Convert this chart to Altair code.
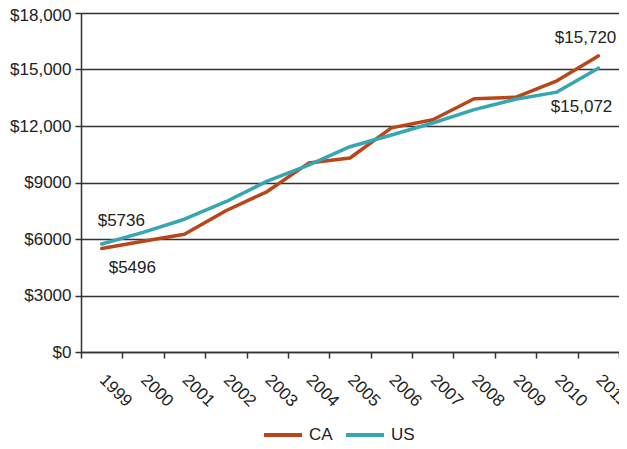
import altair as alt
import pandas as pd

years = [str(y) for y in range(1999, 2012)]
ca_values = [5496, 5880, 6250, 7500, 8520, 10030, 10300, 11900, 12330, 13450, 13520, 14400, 15720]
us_values = [5736, 6350, 7050, 7980, 9070, 9920, 10900, 11520, 12160, 12870, 13420, 13800, 15072]
series_names = ["CA", "US"]
series_colors = ["#B9461A", "#35A6B2"]

ann_year = ["1999", "1999", "2011", "2011"]
ann_value = [5736, 5496, 15720, 15072]
ann_text = ["$5736", "$5496", "$15,720", "$15,072"]

rows = []
for y, c, u in zip(years, ca_values, us_values):
    rows.append({"year": y, "value": c, "series": "CA"})
    rows.append({"year": y, "value": u, "series": "US"})
df = pd.DataFrame(rows)

FONT = "Liberation Sans"
TXT = "#222222"

x_scale = alt.Scale(type="band", domain=years, paddingInner=0, paddingOuter=0)
x_enc = alt.X(
    "year:O",
    scale=x_scale,
    bandPosition=0.5,
    axis=alt.Axis(
        title=None, tickBand="extent", labelAngle=45, labelAlign="left",
        labelBaseline="middle", labelPadding=19, tickSize=6, tickColor="#333333",
        tickWidth=1.5, domainColor="#333333", domainWidth=1.5, grid=False,
        labelFont=FONT, labelFontSize=17, labelColor=TXT,
    ),
)
y_scale = alt.Scale(domain=[0, 18000], nice=False)
y_enc = alt.Y(
    "value:Q",
    scale=y_scale,
    axis=alt.Axis(
        title=None, values=[0, 3000, 6000, 9000, 12000, 15000, 18000],
        labelExpr="datum.value >= 10000 ? '$' + format(datum.value, ',') : '$' + datum.value",
        labelOffset={"condition": {"test": "datum.value == 18000", "value": 2}, "value": 0},
        grid=True, gridColor="#333333", gridWidth=1.4, gridOpacity=1,
        tickSize=6, tickColor="#333333", tickWidth=1.5,
        domainColor="#333333", domainWidth=1.5, labelPadding=4,
        labelFont=FONT, labelFontSize=17, labelColor=TXT,
    ),
)

lines = alt.Chart(df).mark_line(strokeWidth=3.5, strokeCap="round", strokeJoin="round").encode(
    x=x_enc,
    y=y_enc,
    color=alt.Color(
        "series:N",
        scale=alt.Scale(domain=series_names, range=series_colors),
        legend=alt.Legend(
            title=None, orient="none", legendX=181, legendY=401, direction="horizontal",
            symbolType="stroke", symbolStrokeWidth=4, symbolSize=1444,
            labelFont=FONT, labelFontSize=17, labelColor=TXT, labelOffset=5,
            columnPadding=5,
        ),
    ),
)

offsets = [(-4, -23, "left"), (7, 20, "left"), (18, -18, "right"), (14, 39, "right")]
texts = []
for yr, val, txt, (dx, dy, al) in zip(ann_year, ann_value, ann_text, offsets):
    d = pd.DataFrame({"year": [yr], "value": [val], "label": [txt]})
    texts.append(
        alt.Chart(d).mark_text(
            align=al, baseline="middle", dx=dx, dy=dy, font=FONT, fontSize=17, color=TXT
        ).encode(
            x=alt.X("year:O", scale=x_scale, bandPosition=0.5),
            y=alt.Y("value:Q", scale=y_scale),
            text="label:N",
        )
    )

chart = alt.layer(lines, *texts).properties(
    width=538, height=339,
    autosize=alt.AutoSizeParams(type="none"),
    padding={"left": 73, "top": 5, "right": 0, "bottom": 89},
).configure_view(stroke=None).configure(background="white")

chart.save("out.html", embed_options={"renderer": "svg", "actions": False})
